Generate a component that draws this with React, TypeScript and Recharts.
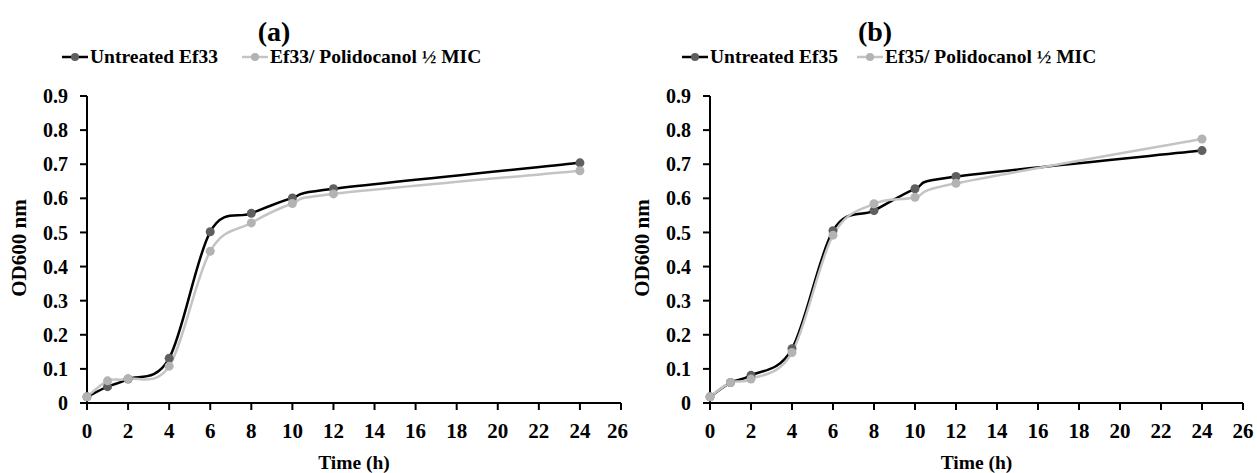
import React from 'react'
import { LineChart, Line, XAxis, YAxis } from 'recharts'

const hours = [0, 1, 2, 4, 6, 8, 10, 12, 24]
const untreatedEf33 = [0.018, 0.048, 0.07, 0.131, 0.502, 0.556, 0.601, 0.628, 0.704]
const treatedEf33 = [0.018, 0.065, 0.071, 0.108, 0.445, 0.528, 0.585, 0.613, 0.681]
const untreatedEf35 = [0.018, 0.06, 0.081, 0.159, 0.505, 0.564, 0.628, 0.664, 0.74]
const treatedEf35 = [0.018, 0.06, 0.07, 0.148, 0.492, 0.584, 0.603, 0.644, 0.774]

const xTicks = [0, 2, 4, 6, 8, 10, 12, 14, 16, 18, 20, 22, 24, 26]
const yTicks = [0, 0.1, 0.2, 0.3, 0.4, 0.5, 0.6, 0.7, 0.8, 0.9]

const FONT = '"Liberation Serif", "Times New Roman", serif'
const DARK = '#000000'
const DARK_DOT = '#5f5f5f'
const LIGHT = '#c4c4c4'
const LIGHT_DOT = '#b3b3b3'

// excel style smoothing: cubic bezier, tangents from neighbouring points
const excelSmooth = (context: any) => {
  let pts: number[][] = []
  return {
    areaStart() {},
    areaEnd() {},
    lineStart() { pts = [] },
    point(x: number, y: number) { pts.push([+x, +y]) },
    lineEnd() {
      if (!pts.length) return
      context.moveTo(pts[0][0], pts[0][1])
      for (let i = 0; i < pts.length - 1; i++) {
        const p0 = pts[i - 1] || pts[i]
        const p1 = pts[i]
        const p2 = pts[i + 1]
        const p3 = pts[i + 2] || pts[i + 1]
        context.bezierCurveTo(
          p1[0] + (p2[0] - p0[0]) / 6, p1[1] + (p2[1] - p0[1]) / 6,
          p2[0] - (p3[0] - p1[0]) / 6, p2[1] - (p3[1] - p1[1]) / 6,
          p2[0], p2[1]
        )
      }
    },
  }
}

function LegendItem({ left, color, dot, label }: { left: number; color: string; dot: string; label: string }) {
  return (
    <div style={{ position: 'absolute', left, top: 45, display: 'flex', alignItems: 'center', whiteSpace: 'nowrap' }}>
      <svg width={27} height={24}>
        <line x1={0} y1={12} x2={26} y2={12} stroke={color} strokeWidth={2.5} />
        <circle cx={13} cy={12} r={4} fill={dot} />
      </svg>
      <span style={{ fontSize: 19.5, fontWeight: 'bold', marginLeft: 1 }}>{label}</span>
    </div>
  )
}

type PanelProps = {
  left: number
  width: number
  plotLeft: number
  plotRight: number
  title: string
  titleX: number
  strain: string
  legendX: [number, number]
  untreated: number[]
  treated: number[]
}

function Panel({ left, width, plotLeft, plotRight, title, titleX, strain, legendX, untreated, treated }: PanelProps) {
  const data = hours.map((t, i) => ({ t, u: untreated[i], p: treated[i] }))
  const yAxisWidth = 80
  const xAxisHeight = 62
  const margin = { top: 96, right: width - plotRight, bottom: 473 - 403 - xAxisHeight, left: plotLeft - yAxisWidth }
  const plotMid = (plotLeft + plotRight) / 2
  return (
    <div style={{ position: 'absolute', left, top: 0, width, height: 473 }}>
      <div style={{ position: 'absolute', left: titleX - 40, width: 80, top: 17, lineHeight: '30px', textAlign: 'center', fontSize: 28, fontWeight: 'bold' }}>
        {title}
      </div>
      <LegendItem left={legendX[0]} color={DARK} dot={DARK_DOT} label={`Untreated ${strain}`} />
      <LegendItem left={legendX[1]} color={LIGHT} dot={LIGHT_DOT} label={`${strain}/ Polidocanol ½ MIC`} />
      <LineChart width={width} height={473} data={data} margin={margin}>
        <XAxis
          dataKey="t"
          type="number"
          domain={[0, 26]}
          ticks={xTicks}
          height={xAxisHeight}
          axisLine={{ stroke: '#000', strokeWidth: 2 }}
          tickLine={{ stroke: '#000', strokeWidth: 2 }}
          tickSize={7}
          tickMargin={13}
          tick={{ fontSize: 21, fontWeight: 'bold', fill: '#000', fontFamily: FONT }}
          label={{
            content: () => (
              <text x={plotMid} y={469} textAnchor="middle" fontSize={19.5} fontWeight="bold" fontFamily={FONT} fill="#000">
                Time (h)
              </text>
            ),
          }}
        />
        <YAxis
          type="number"
          domain={[0, 0.9]}
          ticks={yTicks}
          width={yAxisWidth}
          axisLine={{ stroke: '#000', strokeWidth: 2 }}
          tickLine={{ stroke: '#000', strokeWidth: 2 }}
          tickSize={7}
          tickMargin={12}
          tickFormatter={(v: number) => (v === 0 ? '0' : v.toFixed(1))}
          tick={{ fontSize: 20, fontWeight: 'bold', fill: '#000', fontFamily: FONT }}
          label={{
            content: () => (
              <text
                x={plotLeft - 68}
                y={248}
                transform={`rotate(-90 ${plotLeft - 68} 248)`}
                textAnchor="middle"
                dominantBaseline="central"
                fontSize={21}
                fontWeight="bold"
                fontFamily={FONT}
                fill="#000"
              >
                OD600 nm
              </text>
            ),
          }}
        />
        <Line
          dataKey="u"
          type={excelSmooth as any}
          stroke={DARK}
          strokeWidth={2.5}
          dot={{ r: 4.5, fill: DARK_DOT, stroke: DARK_DOT, strokeWidth: 0 }}
          activeDot={false}
          isAnimationActive={false}
        />
        <Line
          dataKey="p"
          type={excelSmooth as any}
          stroke={LIGHT}
          strokeWidth={2.5}
          dot={{ r: 4.5, fill: LIGHT_DOT, stroke: LIGHT_DOT, strokeWidth: 0 }}
          activeDot={false}
          isAnimationActive={false}
        />
      </LineChart>
    </div>
  )
}

export default function App() {
  return (
    <div style={{ position: 'absolute', left: 0, top: 0, width: 1257, height: 473, background: '#fff', fontFamily: FONT, color: '#000' }}>
      <Panel
        left={0}
        width={628}
        plotLeft={87}
        plotRight={621}
        title="(a)"
        titleX={274}
        strain="Ef33"
        legendX={[62, 242]}
        untreated={untreatedEf33}
        treated={treatedEf33}
      />
      <Panel
        left={628}
        width={629}
        plotLeft={82}
        plotRight={615}
        title="(b)"
        titleX={247}
        strain="Ef35"
        legendX={[54, 229]}
        untreated={untreatedEf35}
        treated={treatedEf35}
      />
    </div>
  )
}
